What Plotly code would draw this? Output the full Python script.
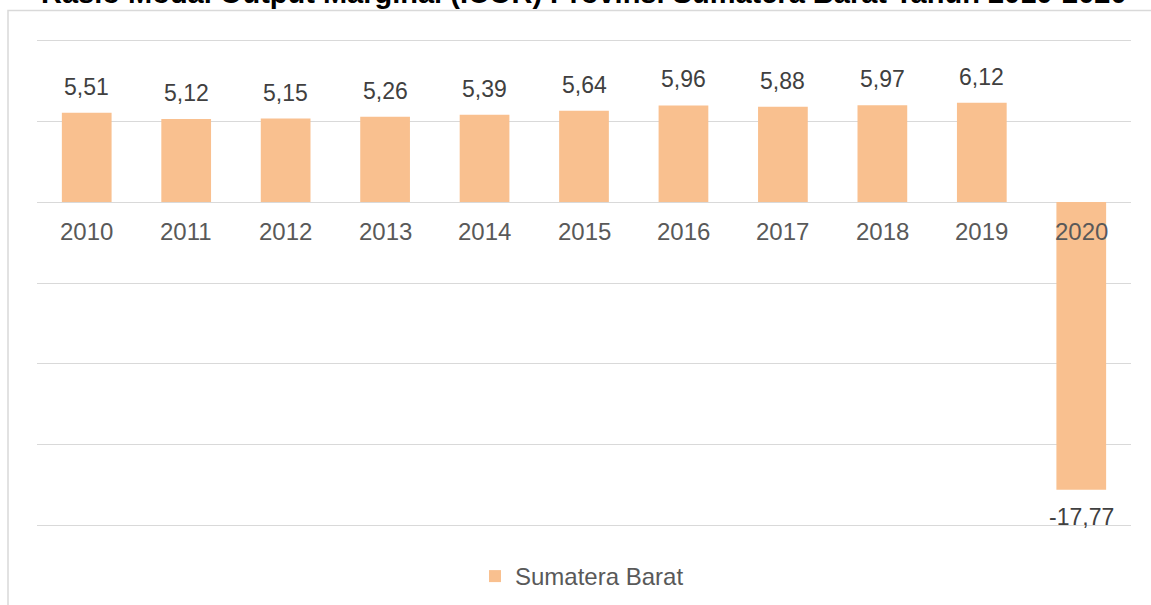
import plotly.graph_objects as go

years = ["2010", "2011", "2012", "2013", "2014", "2015", "2016", "2017", "2018", "2019", "2020"]
icor = [5.51, 5.12, 5.15, 5.26, 5.39, 5.64, 5.96, 5.88, 5.97, 6.12, -17.77]
series_name = "Sumatera Barat"
title_text = "Rasio Modal Output Marginal (ICOR) Provinsi Sumatera Barat Tahun 2010-2020"

BAR = "#F9C08F"
GRID = "#D9D9D9"
FONT = "Liberation Sans, Arial, sans-serif"

W, H = 1151, 605
L, R, T, B = 37, 20, 38, 77
ph = H - T - B
pw = W - L - R

fig = go.Figure()
fig.add_trace(go.Bar(x=years, y=icor, name=series_name, marker=dict(color=BAR, line=dict(width=0)),
                     showlegend=True))

annotations = []
# category labels sitting under the zero line (x given as category index)
for i, yr in enumerate(years):
    annotations.append(dict(
        x=i, y=0, xref="x", yref="y", text=yr, showarrow=False,
        yanchor="top", yshift=-14,
        font=dict(family=FONT, size=24, color="#595959"),
    ))
# data labels
for i, v in enumerate(icor):
    txt = f"{v:.2f}".replace(".", ",")
    annotations.append(dict(
        x=i, y=v, xref="x", yref="y", text=txt, showarrow=False,
        yanchor="bottom" if v >= 0 else "top",
        yshift=11 if v >= 0 else -12,
        font=dict(family=FONT, size=23, color="#404040"),
    ))
# title (cut at the top edge as in the reference)
annotations.append(dict(
    x=0.5, y=(H - B - 11) / ph, xref="paper", yref="paper", xanchor="center", yanchor="bottom",
    text=f"<b>{title_text}</b>", showarrow=False,
    font=dict(family=FONT, size=29, color="#000000"),
))

shapes = [dict(type="rect", xref="paper", yref="paper",
               x0=(8 - L) / pw, x1=1.2, y0=-0.5, y1=(H - B - 10.5) / ph,
               line=dict(color=GRID, width=1.5), fillcolor="rgba(0,0,0,0)", layer="below")]

fig.update_layout(
    width=W, height=H,
    margin=dict(l=L, r=R, t=T, b=B, autoexpand=False),
    paper_bgcolor="white", plot_bgcolor="white",
    separators=",.",
    bargap=0.5,
    xaxis=dict(type="category", range=[-0.5, len(years) - 0.5], showline=False, ticks="",
               showticklabels=False, showgrid=False, automargin=False),
    yaxis=dict(range=[-20.125, 10.125], tickvals=[-20, -15, -10, -5, 0, 5, 10], showticklabels=False,
               showgrid=True, gridcolor=GRID, gridwidth=1, zeroline=True, zerolinecolor=GRID,
               zerolinewidth=1, showline=False, automargin=False),
    legend=dict(orientation="h", x=0.5 - 2 / pw, xanchor="center", y=(H - B - 554) / ph, yanchor="top",
                font=dict(family=FONT, size=24, color="#595959"), itemwidth=30),
    annotations=annotations,
    shapes=shapes,
)

fig.write_html("out.html", config={"displayModeBar": False},
               post_script="document.body.style.margin='0';")
